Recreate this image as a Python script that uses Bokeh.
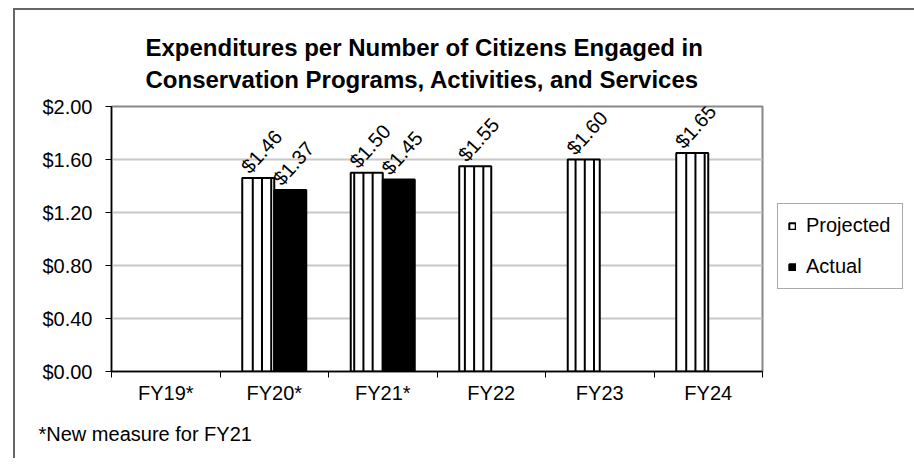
import numpy as np
from bokeh.plotting import figure
from bokeh.models import (ColumnDataSource, FixedTicker, NumeralTickFormatter, Legend,
                          LegendItem, Title, Range1d)
from bokeh.core.properties import value
from bokeh.embed import file_html
from bokeh.resources import INLINE

years = ["FY19*", "FY20*", "FY21*", "FY22", "FY23", "FY24"]
proj_years = ["FY20*", "FY21*", "FY22", "FY23", "FY24"]
projected = [1.46, 1.50, 1.55, 1.60, 1.65]
act_years = ["FY20*", "FY21*"]
actual = [1.37, 1.45]
y_ticks = [0.0, 0.4, 0.8, 1.2, 1.6, 2.0]
title_text = "Expenditures per Number of Citizens Engaged in\nConservation Programs, Activities, and Services"
footnote = "*New measure for FY21"

FONT = "Liberation Sans"
BAR_W = 0.295
OFF = BAR_W / 2
STRIPE = 0.085      # spacing of the vertical stripe pattern (x units)
STRIPE_PHASE = 0.027

centers = {y: i + 0.5 for i, y in enumerate(years)}
px = np.array([centers[y] for y in proj_years]) - OFF
ax = np.array([centers[y] for y in act_years]) + OFF

src_p = ColumnDataSource(dict(x=px, top=projected,
                              lx=px + 0.03, ly=np.array(projected) + 0.2,
                              txt=["${:.2f}".format(v) for v in projected]))
src_a = ColumnDataSource(dict(x=ax, top=actual,
                              lx=ax + 0.03, ly=np.array(actual) + 0.2,
                              txt=["${:.2f}".format(v) for v in actual]))

# stripe pattern lines inside the projected bars
grid_x = np.arange(STRIPE_PHASE, len(years), STRIPE)
sx, sy = [], []
for c, v in zip(px, projected):
    lo, hi = c - BAR_W / 2 + 0.02, c + BAR_W / 2 - 0.02
    for g in grid_x[(grid_x > lo) & (grid_x < hi)]:
        sx.append(g)
        sy.append(v)
src_s = ColumnDataSource(dict(x=sx, y0=[0] * len(sx), y1=sy))

p = figure(frame_width=651, frame_height=265, output_backend="svg", toolbar_location=None,
           x_range=Range1d(0, len(years)), y_range=Range1d(0, 2.0),
           min_border_left=96, min_border_right=150, min_border_top=96, min_border_bottom=86)
p.styles = {"border-top": "2px solid #666666", "border-left": "2px solid #666666",
            "margin-left": "13px", "margin-top": "8px"}

p.title.text = title_text
p.title.align = "left"
p.title.offset = 34
p.title.text_font = FONT
p.title.text_font_size = "24px"
p.title.text_font_style = "bold"
p.title.text_color = "black"
p.title.text_line_height = 1.2
p.title.standoff = 26

rp = p.vbar(x="x", top="top", width=BAR_W, source=src_p, fill_color="white",
            line_color="black", line_width=2)
p.segment(x0="x", y0="y0", x1="x", y1="y1", source=src_s, line_color="black", line_width=2)
ra = p.vbar(x="x", top="top", width=BAR_W, source=src_a, fill_color="black",
            line_color="black", line_width=2)

for s in (src_p, src_a):
    p.text(x="lx", y="ly", text="txt", source=s, angle=48, angle_units="deg",
           text_align="center", text_baseline="middle",
           text_font=value(FONT), text_font_size="20px", text_color="black")

# axes
p.xaxis.ticker = FixedTicker(ticks=[centers[y] for y in years],
                             minor_ticks=list(range(len(years) + 1)))
p.xaxis.major_label_overrides = {centers[y]: y for y in years}
p.xaxis.major_tick_line_color = None
p.xaxis.minor_tick_out = 6
p.xaxis.minor_tick_in = 0
p.xaxis.minor_tick_line_color = "black"
p.xaxis.major_label_standoff = 4

p.yaxis.ticker = FixedTicker(ticks=y_ticks)
p.yaxis.formatter = NumeralTickFormatter(format="$0.00")
p.yaxis.major_tick_out = 6
p.yaxis.major_tick_in = 0
p.yaxis.minor_tick_line_color = None
p.yaxis.major_label_standoff = 13

for a in (p.xaxis, p.yaxis):
    a.axis_line_color = "black"
    a.axis_line_width = 1.5
    a.major_label_text_font = FONT
    a.major_label_text_font_size = "20px"
    a.major_label_text_color = "black"

p.xgrid.grid_line_color = None
p.ygrid.grid_line_color = "#c8c8c8"
p.ygrid.grid_line_width = 2
p.outline_line_color = "#888888"
p.outline_line_width = 2
p.background_fill_color = "white"
p.border_fill_color = "white"

legend = Legend(items=[LegendItem(label="Projected", renderers=[rp]),
                       LegendItem(label="Actual", renderers=[ra])],
                location=(15, 82), orientation="vertical",
                label_text_font=FONT, label_text_font_size="20px",
                label_text_color="black", glyph_width=8, glyph_height=8,
                label_height=22, label_width=86, label_standoff=10,
                spacing=18, padding=10, margin=0,
                border_line_color="#555555", border_line_width=1.5,
                background_fill_color="white")
p.add_layout(legend, "right")

p.add_layout(Title(text=footnote, align="left", offset=-73, text_font=FONT,
                   text_font_size="20px", text_font_style="normal", text_color="black",
                   standoff=28), "below")

open("out.html", "w").write(file_html(p, INLINE))
